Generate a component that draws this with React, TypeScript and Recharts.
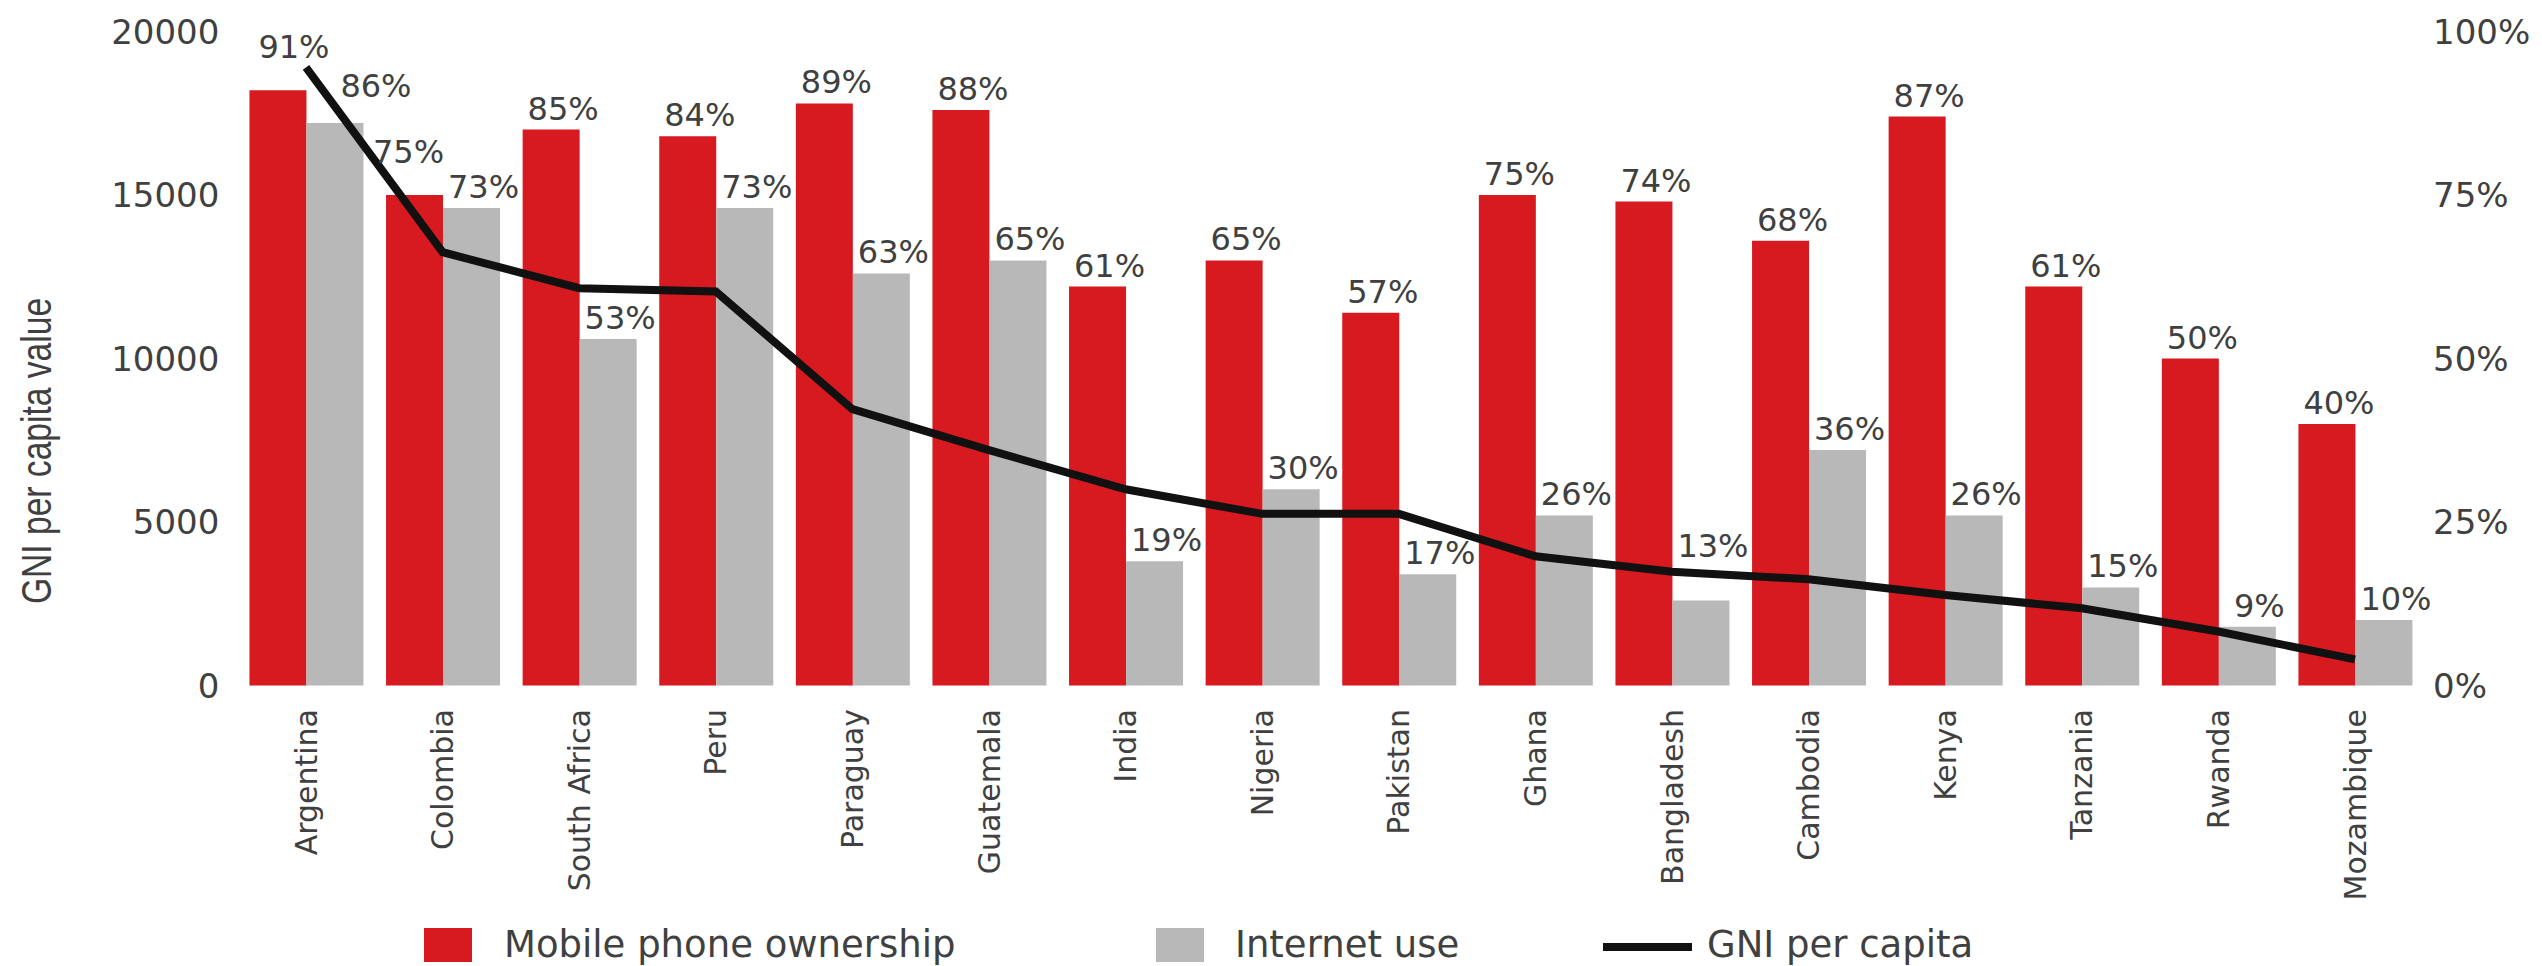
import React from 'react';
import { ComposedChart, Bar, Line, XAxis, YAxis, Legend, LabelList } from 'recharts';

// ---------- data ----------
const countries = [
  'Argentina', 'Colombia', 'South Africa', 'Peru', 'Paraguay', 'Guatemala', 'India', 'Nigeria',
  'Pakistan', 'Ghana', 'Bangladesh', 'Cambodia', 'Kenya', 'Tanzania', 'Rwanda', 'Mozambique',
];
const mobileOwnership = [91, 75, 85, 84, 89, 88, 61, 65, 57, 75, 74, 68, 87, 61, 50, 40];
const internetUse = [86, 73, 53, 73, 63, 65, 19, 30, 17, 26, 13, 36, 26, 15, 9, 10];
const gniPerCapita = [18900, 13250, 12150, 12050, 8450, 7200, 6000, 5250, 5250, 3950, 3480, 3250, 2770, 2360, 1650, 800];
const gniTicks = [0, 5000, 10000, 15000, 20000];
const pctTicks = [0, 25, 50, 75, 100];

const mobileName = 'Mobile phone ownership';
const internetName = 'Internet use';
const gniName = 'GNI per capita';
const leftAxisTitle = 'GNI per capita value';

// ---------- styles / layout ----------
const RED = '#D71920';
const GRAY = '#B8B8B8';
const BLACK = '#111111';
const TEXT = '#404040';
const NUM_FONT = "'DejaVu Sans', Verdana, sans-serif";
const TITLE_FONT = "'Liberation Sans', Arial, sans-serif";

const W = 2526;
const H = 958;
const PLOT_TOP = 23.5;
const PLOT_BOTTOM = 677.5;
const LEFT_AXIS_W = 229.7;
const RIGHT_AXIS_W = 110.7;
const X_AXIS_H = 200;

// manual label nudges (px), like the hand-placed labels of the original
const labelNudges: Record<string, { dx: number; dy: number }> = {
  'mobile:Argentina': { dx: 4, dy: -22 },
  'internet:Argentina': { dx: 29, dy: -16 },
  'mobile:Colombia': { dx: -18, dy: -22 },
  'internet:Bangladesh': { dx: 0, dy: -33 },
};

const legendLayout = [
  { name: mobileName, color: RED, kind: 'rect', left: 416, gap: 32 },
  { name: internetName, color: GRAY, kind: 'rect', left: 1148, gap: 31 },
  { name: gniName, color: BLACK, kind: 'line', left: 1595, gap: 15 },
];

const data = countries.map((c, i) => ({
  country: c,
  mobile: mobileOwnership[i],
  internet: internetUse[i],
  gni: gniPerCapita[i],
}));

const XTick = (props: any) => {
  const { x, y, payload } = props;
  return (
    <text
      x={x}
      y={y}
      transform={`rotate(-90, ${x}, ${y})`}
      textAnchor="end"
      dy="0.35em"
      fill={TEXT}
      fontSize={30}
      fontFamily={NUM_FONT}
    >
      {payload.value}
    </text>
  );
};

const makeBarLabel = (seriesKey: string) => (props: any) => {
  const { x, y, width, value, index } = props;
  const country = countries[index];
  const nudge = labelNudges[`${seriesKey}:${country}`] || { dx: 0, dy: 0 };
  const cx = Number(x) + Number(width) / 2 + 12 + nudge.dx;
  const cy = Number(y) - 10 + nudge.dy;
  return (
    <text x={cx} y={cy} textAnchor="middle" fill={TEXT} fontSize={32} fontFamily={NUM_FONT}>
      {`${value}%`}
    </text>
  );
};
const MobileLabel = makeBarLabel('mobile');
const InternetLabel = makeBarLabel('internet');

const AxisTitle = (props: any) => {
  const vb = props.viewBox || { x: 0, y: 0, height: 0 };
  const x = vb.x + 42.5;
  const y = vb.y + vb.height / 2 + 92.5;
  return (
    <text
      transform={`translate(${x}, ${y}) rotate(-90) scale(0.8, 1)`}
      x={0}
      y={0}
      textAnchor="middle"
      fill={TEXT}
      fontSize={42}
      fontFamily={TITLE_FONT}
    >
      {leftAxisTitle}
    </text>
  );
};

const renderLegend = () => (
  <div style={{ position: 'relative', width: 0, height: 0 }}>
    {legendLayout.map((item) => (
      <div
        key={item.name}
        style={{
          position: 'absolute',
          left: item.left,
          top: 920,
          height: 34,
          display: 'flex',
          alignItems: 'center',
          whiteSpace: 'nowrap',
        }}
      >
        {item.kind === 'rect' ? (
          <div style={{ width: 48, height: 34, background: item.color }} />
        ) : (
          <div style={{ width: 89, height: 8, background: item.color, marginTop: 3 }} />
        )}
        <span
          style={{
            marginLeft: item.gap,
            fontFamily: NUM_FONT,
            fontSize: 37,
            lineHeight: '34px',
            color: TEXT,
          }}
        >
          {item.name}
        </span>
      </div>
    ))}
  </div>
);

export default function App() {
  return (
    <div style={{ width: W, height: H }}>
      <style>{'html,body{overflow:hidden}'}</style>
      <ComposedChart
        width={W}
        height={H}
        data={data}
        margin={{ top: PLOT_TOP, right: 0, bottom: H - PLOT_BOTTOM - X_AXIS_H, left: 0 }}
        barCategoryGap="8.6%"
        barGap={0}
      >
        <XAxis
          dataKey="country"
          interval={0}
          tickLine={false}
          axisLine={false}
          height={X_AXIS_H}
          tickMargin={17.5}
          tick={<XTick />}
        />
        <YAxis
          yAxisId="left"
          orientation="left"
          width={LEFT_AXIS_W}
          domain={[0, 20000]}
          ticks={gniTicks}
          tickLine={false}
          axisLine={false}
          tickMargin={12.3}
          tick={{ fill: TEXT, fontSize: 34, fontFamily: NUM_FONT }}
          label={{ content: (p: any) => <AxisTitle {...p} /> }}
        />
        <YAxis
          yAxisId="right"
          orientation="right"
          width={RIGHT_AXIS_W}
          domain={[0, 100]}
          ticks={pctTicks}
          tickLine={false}
          axisLine={false}
          tickMargin={3.7}
          tickFormatter={(v: number) => `${v}%`}
          tick={{ fill: TEXT, fontSize: 34, fontFamily: NUM_FONT }}
        />
        <Legend
          verticalAlign="top"
          align="left"
          wrapperStyle={{ position: 'absolute', left: 0, top: 0, width: 0, height: 0 }}
          content={renderLegend}
        />
        <Bar yAxisId="right" dataKey="mobile" name={mobileName} fill={RED} isAnimationActive={false}>
          <LabelList dataKey="mobile" content={<MobileLabel />} />
        </Bar>
        <Bar yAxisId="right" dataKey="internet" name={internetName} fill={GRAY} isAnimationActive={false}>
          <LabelList dataKey="internet" content={<InternetLabel />} />
        </Bar>
        <Line
          yAxisId="left"
          type="linear"
          dataKey="gni"
          name={gniName}
          stroke={BLACK}
          strokeWidth={8}
          dot={false}
          activeDot={false}
          isAnimationActive={false}
        />
      </ComposedChart>
    </div>
  );
}
